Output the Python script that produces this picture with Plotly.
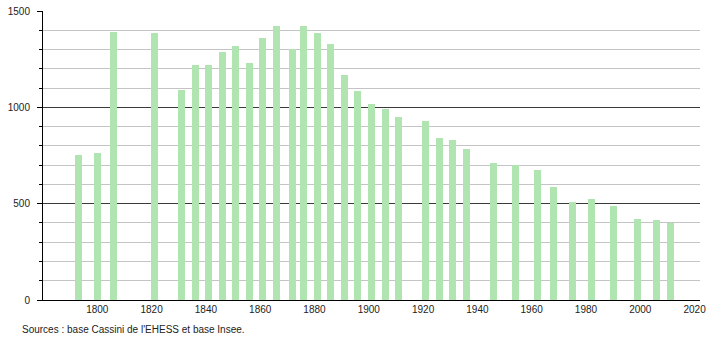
import plotly.graph_objects as go

years = [1793, 1800, 1806, 1821, 1831, 1836, 1841, 1846, 1851, 1856, 1861, 1866,
         1872, 1876, 1881, 1886, 1891, 1896, 1901, 1906, 1911, 1921, 1926, 1931,
         1936, 1946, 1954, 1962, 1968, 1975, 1982, 1990, 1999, 2006, 2011]
population = [752, 764, 1391, 1386, 1091, 1219, 1219, 1287, 1318, 1228, 1358, 1422,
              1301, 1422, 1384, 1329, 1166, 1085, 1017, 991, 950, 929, 841, 830,
              784, 709, 699, 675, 585, 509, 523, 488, 419, 414, 398]
y_ticks = [0, 500, 1000, 1500]
x_ticks = [1800, 1820, 1840, 1860, 1880, 1900, 1920, 1940, 1960, 1980, 2000, 2020]
source_text = "Sources : base Cassini de l'EHESS et base Insee."

fig = go.Figure()
fig.add_trace(go.Bar(
    x=years, y=population, width=2.6,
    marker=dict(color="rgb(176,228,176)", line=dict(width=0)),
    hoverinfo="x+y",
))

fig.update_layout(
    width=710, height=340,
    margin=dict(l=43, r=10, t=11, b=40),
    paper_bgcolor="white", plot_bgcolor="white",
    showlegend=False,
    font=dict(family="Liberation Sans, Arial, sans-serif", size=10, color="#222"),
    bargap=0,
)
fig.update_xaxes(
    range=[1780, 2022], tickmode="array", tickvals=x_ticks,
    ticktext=[str(v) for v in x_ticks],
    showgrid=False, zeroline=False, automargin=False,
    showline=True, linecolor="black", linewidth=1,
    ticks="", tickfont=dict(size=10, color="#222"),
)
fig.update_yaxes(
    range=[0, 1500], tickmode="array", tickvals=y_ticks,
    showgrid=True, gridcolor="#3a3a3a", gridwidth=1,
    zeroline=False, showline=True, linecolor="black", linewidth=1,
    automargin=False,
    ticks="outside", ticklen=5, tickcolor="black",
    ticklabelstandoff=5,
    minor=dict(dtick=100, showgrid=True, gridcolor="#c4c4c4", gridwidth=1,
               ticks="outside", ticklen=3, tickcolor="black"),
    tickfont=dict(size=10, color="#222"),
)
fig.add_annotation(
    text=source_text, xref="paper", yref="paper",
    x=-23/657, y=-29/289, xanchor="left", yanchor="middle",
    showarrow=False, font=dict(size=10, color="#222"),
)
fig.write_html("out.html")
